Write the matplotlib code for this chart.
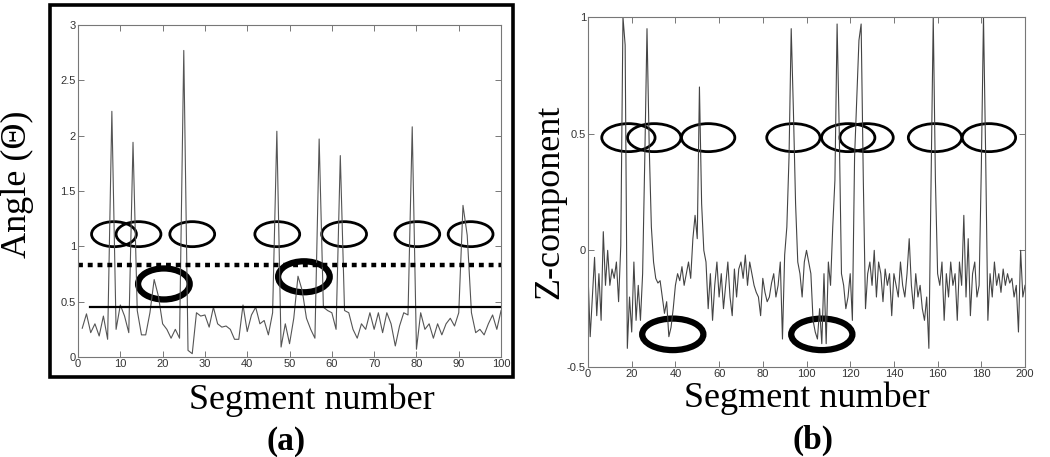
# Two panel figure: angle and z-component per segment, with marked regions

import matplotlib.pyplot as plt
from matplotlib.patches import Ellipse, Rectangle
import numpy as np

# panel (a) data, segments 1..100
angle_seg = np.arange(1, 101)
angle_val = [0.26, 0.39, 0.22, 0.30, 0.19, 0.37, 0.16, 2.22, 0.25, 0.47,
             0.37, 0.22, 1.94, 0.42, 0.20, 0.20, 0.40, 0.70, 0.55, 0.30,
             0.25, 0.17, 0.25, 0.17, 2.77, 0.06, 0.03, 0.40, 0.37, 0.38,
             0.27, 0.45, 0.30, 0.27, 0.28, 0.25, 0.16, 0.16, 0.47, 0.23,
             0.38, 0.45, 0.30, 0.33, 0.20, 0.40, 2.04, 0.09, 0.30, 0.12,
             0.35, 0.73, 0.60, 0.35, 0.25, 0.17, 1.97, 0.45, 0.42, 0.40,
             0.25, 1.82, 0.42, 0.40, 0.25, 0.17, 0.30, 0.25, 0.40, 0.25,
             0.40, 0.22, 0.40, 0.30, 0.10, 0.28, 0.40, 0.38, 2.08, 0.07,
             0.40, 0.25, 0.30, 0.17, 0.30, 0.20, 0.30, 0.35, 0.28, 0.40,
             1.37, 1.10, 0.40, 0.22, 0.25, 0.20, 0.30, 0.38, 0.25, 0.42]
dotted_level = 0.83
solid_level = 0.455
solid_start = 2.8

# panel (b) data, segments 0..200
z_seg = np.arange(0, 201)
z_val = [-0.10, -0.37, -0.20, -0.03, -0.28, -0.10, -0.30, 0.08, -0.15, 0.00,
         -0.15, -0.08, -0.12, -0.05, -0.22, 0.02, 1.00, 0.88, -0.42, -0.20,
         -0.35, -0.05, -0.30, -0.15, -0.30, -0.10, 0.40, 0.95, 0.45, 0.10,
         -0.05, -0.12, -0.14, -0.13, -0.20, -0.27, -0.22, -0.37, -0.33, -0.25,
         -0.15, -0.10, -0.13, -0.07, -0.15, -0.10, -0.05, -0.12, 0.05, 0.15,
         0.05, 0.70, 0.20, 0.00, -0.05, -0.25, -0.10, -0.30, -0.15, -0.05,
         -0.20, -0.10, -0.25, -0.15, -0.05, -0.20, -0.28, -0.08, -0.20, -0.08,
         -0.05, -0.12, -0.02, -0.15, -0.05, -0.10, -0.15, -0.18, -0.20, -0.28,
         -0.12, -0.18, -0.22, -0.20, -0.14, -0.10, -0.20, -0.15, -0.05, -0.38,
         -0.02, 0.10, 0.40, 0.95, 0.60, 0.20, -0.05, -0.10, -0.20, -0.05,
         0.00, -0.05, -0.10, -0.30, -0.35, -0.38, -0.25, -0.40, -0.10, -0.40,
         -0.05, -0.15, 0.10, 0.30, 0.97, 0.50, -0.10, -0.15, -0.25, -0.20,
         -0.10, -0.30, 0.40, 0.65, 0.90, 0.97, 0.30, -0.25, -0.10, -0.05,
         -0.15, 0.00, -0.20, -0.05, -0.10, -0.22, -0.08, -0.15, -0.10, -0.28,
         -0.10, -0.15, -0.20, -0.05, -0.15, -0.20, -0.10, 0.05, -0.15, -0.25,
         -0.10, -0.20, -0.15, -0.25, -0.30, -0.20, -0.42, 0.30, 1.00, 0.30,
         -0.10, -0.15, -0.05, -0.30, -0.10, -0.20, -0.05, -0.15, -0.10, -0.30,
         -0.05, -0.15, 0.15, -0.20, 0.05, -0.28, -0.10, -0.05, -0.20, -0.15,
         0.35, 1.00, 0.40, -0.30, -0.10, -0.20, -0.05, -0.15, -0.10, -0.18,
         -0.08, -0.15, -0.10, -0.14, -0.12, -0.20, -0.15, -0.35, 0.00, -0.20,
         -0.15]

# hand drawn marks (centres in data units)
a_thin_x = [8.5, 14.3, 27.0, 47.1, 62.9, 80.2, 92.8]
a_thin_y = 1.11
a_thick_x = [20.3, 53.4]
a_thick_y = [0.66, 0.725]
b_thin_x = [18.5, 30.3, 55.0, 94.0, 119.1, 127.5, 158.8, 183.5]
b_thin_y = 0.483
b_thick_x = [38.8, 107.0]
b_thick_y = -0.36

serif = 'Liberation Serif'
sans = 'Liberation Sans'


def style_axes(ax):
    for s in ax.spines.values():
        s.set_color('#777777')
        s.set_linewidth(0.8)
    ax.tick_params(direction='in', length=4, width=0.7, color='#777777',
                   top=True, right=True, labelsize=8, labelcolor='#333333', pad=1.5)
    for lab in ax.get_xticklabels() + ax.get_yticklabels():
        lab.set_family(sans)


fig = plt.figure(figsize=(10.5, 4.57), dpi=100)

# panel (a)
ax1 = fig.add_axes([0.0743, 0.2188, 0.4029, 0.7265])
ax1.plot(angle_seg, angle_val, color='#555555', lw=0.8)
ax1.axhline(dotted_level, color='black', lw=3.2, linestyle=(0, (1.1, 1.1)))
ax1.plot([solid_start, 100], [solid_level, solid_level], color='black', lw=1.6)
for cx in a_thin_x:
    ax1.add_patch(Ellipse((cx, a_thin_y), 10.6, 0.226, fill=False, ec='black', lw=2.0))
for cx, cy in zip(a_thick_x, a_thick_y):
    ax1.add_patch(Ellipse((cx, cy), 12.2, 0.28, fill=False, ec='black', lw=4.5))
ax1.set_xlim(0, 100)
ax1.set_ylim(0, 3)
ax1.set_xticks(np.arange(0, 101, 10))
ax1.set_yticks(np.arange(0, 3.01, 0.5))
ax1.set_yticklabels(['0', '0.5', '1', '1.5', '2', '2.5', '3'])
style_axes(ax1)

# outer frame around panel (a)
fig.patches.append(Rectangle((0.0476, 0.175), 0.441, 0.814, transform=fig.transFigure,
                             fill=False, ec='black', lw=2.6))

# panel (b)
ax2 = fig.add_axes([0.56, 0.1969, 0.4162, 0.7659])
ax2.plot(z_seg, z_val, color='#444444', lw=0.8)
for cx in b_thin_x:
    ax2.add_patch(Ellipse((cx, b_thin_y), 24.4, 0.12, fill=False, ec='black', lw=2.0))
for cx in b_thick_x:
    ax2.add_patch(Ellipse((cx, b_thick_y), 28.0, 0.135, fill=False, ec='black', lw=4.5))
ax2.set_xlim(0, 200)
ax2.set_ylim(-0.5, 1)
ax2.set_xticks(np.arange(0, 201, 20))
ax2.set_yticks([-0.5, 0, 0.5, 1])
ax2.set_yticklabels(['-0.5', '0', '0.5', '1'])
style_axes(ax2)

# labels
fig.text(0.0162, 0.597, 'Angle (Θ)', rotation=90, ha='center', va='center',
         family=serif, fontsize=26)
fig.text(0.297, 0.125, 'Segment number', ha='center', va='center', family=serif, fontsize=26)
fig.text(0.272, 0.035, '(a)', ha='center', va='center', family=serif, fontsize=24,
         fontweight='bold')
fig.text(0.524, 0.559, 'Z-component', rotation=90, ha='center', va='center',
         family=serif, fontsize=26)
fig.text(0.768, 0.128, 'Segment number', ha='center', va='center', family=serif, fontsize=26)
fig.text(0.774, 0.037, '(b)', ha='center', va='center', family=serif, fontsize=24,
         fontweight='bold')

fig.savefig('out.png', dpi=100)
